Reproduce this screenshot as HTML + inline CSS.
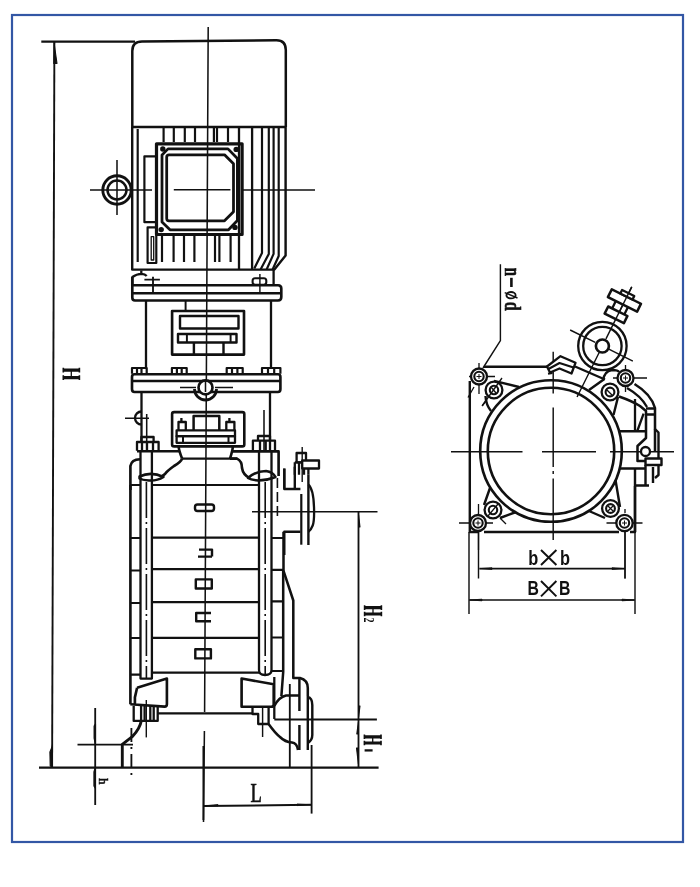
<!DOCTYPE html>
<html><head><meta charset="utf-8">
<style>
html,body{margin:0;padding:0;background:#fff;width:700px;height:887px;overflow:hidden}
svg{display:block}
text{filter:grayscale(1)}
</style></head>
<body>
<svg width="700" height="887" viewBox="0 0 700 887">
<rect x="0" y="0" width="700" height="887" fill="#fff"/>
<rect x="12" y="15" width="671" height="827" fill="none" stroke="#3357a5" stroke-width="2.2"/>

<g id="left" fill="none" stroke="#111" stroke-width="2.30" stroke-linejoin="round">
<!-- H dimension -->
<path d="M41.3 41.7 H135" stroke-width="2.2"/>
<path d="M54.4 42 L52.1 767" stroke-width="1.9"/>
<path d="M54 42.6 L57 63.5 L53.8 63.5 Z M52.4 767 L50.2 766 L49.9 752 L52.4 746 Z" fill="#111" stroke-width="1.10"/>
<path d="M39 767.6 H378.6" stroke-width="2.18"/>
<!-- center line -->
<path d="M208.2 27 L204.6 712 M204.4 731 L203.5 822" stroke-width="1.54"/>

<!-- fan cover -->
<path d="M132.3 127 V51 Q132.3 41.5 142 41.5 L276.5 40.2 Q285.8 40.2 285.8 50 V127" stroke-width="2.5"/>
<path d="M132.3 127 H285.8" stroke-width="2.5"/>

<!-- motor body -->
<path d="M132.2 127 V269.6 H274.4 L285.6 255.6 V127" stroke-width="2.42"/>
<path d="M137.7 129 V262" stroke-width="2.18"/>
<path d="M163.6 128 V142 M173.8 128 V142 M184.8 128 V142 M195 128 V142 M213.9 128 V142 M217 128 V142 M228 128 V142" stroke-width="2.18"/>
<path d="M239 127 V269.5 M252.1 127 V269.5" stroke-width="2.30"/>
<path d="M262 127 V253 L254.3 268.4 M268.8 127 V253.9 L260.7 269.3 M273.6 127 V253.9 L266.7 269.3 M278.7 127 V256 L272.7 269.3" stroke-width="2.18"/>
<path d="M162 236 V262 M173.6 236 V262 M184 236 V262 M194.4 236 V262 M215 236 V262 M219.4 236 V262 M230.6 236 V262" stroke-width="2.18"/>
<!-- side boxes -->
<path d="M156 156.3 H144.4 V222.2 H156" stroke-width="2.18"/>
<path d="M147.6 227.3 H156.3 V263 H147.6 Z" stroke-width="2.18"/>
<path d="M151.2 236.6 H153.7 V260 H151.2 Z" stroke-width="1.32"/>
<!-- terminal box -->
<rect x="156.5" y="143.8" width="85.6" height="90.7" stroke-width="3.22"/>
<path d="M168 148.9 H228 L237.4 158.5 V220.5 L228.5 229.8 H170 L162 222 V155 Z" stroke-width="2.76"/>
<path d="M169 154.8 H224.5 L233.5 163.8 V211.8 L224.5 220.8 H169 Q166.7 220.8 166.7 218.5 V157 Q166.7 154.8 169 154.8 Z" stroke-width="2.76"/>
<g fill="#111" stroke="none">
<circle cx="162.8" cy="149" r="2.7"/><circle cx="236.2" cy="149.4" r="2.7"/>
<circle cx="161.2" cy="229.6" r="2.7"/><circle cx="235" cy="227.4" r="2.7"/>
</g>
<path d="M173.8 189.7 H230.4" stroke-width="1.54"/>
<path d="M90 190 H152 M242 190 H315" stroke-width="1.54"/>
<!-- lifting eye -->
<circle cx="117" cy="190" r="14.2" stroke-width="2.9"/>
<circle cx="117" cy="190" r="9.5" stroke-width="2.5"/>
<path d="M117 160 V215" stroke-width="1.54"/>

<!-- motor flange -->
<path d="M141.3 270.4 V273.9 M132.4 285 V277 Q136.4 274 141.6 273.9 Q145 274 146.7 275.9" stroke-width="2.30"/>
<path d="M144.4 279.6 H159.9 M153 276.7 V292.7" stroke-width="1.84"/>
<path d="M273.6 269.5 V285" stroke-width="2.30"/>
<rect x="252.6" y="278.3" width="13.7" height="6.4" rx="2.5" stroke-width="2.07"/>
<path d="M259.9 274 V293" stroke-width="1.43"/>
<path d="M132.3 285.3 H278 Q281.3 285.3 281.3 288.5 V297 Q281.3 300.5 278 300.5 H135 Q132.3 300.5 132.3 297.5 V277" stroke-width="2.64"/>
<path d="M132.3 293.3 H281.3" stroke-width="2.42"/>

<!-- lantern bracket 1 -->
<path d="M146 301 V367.5 M271 301 V367.5" stroke-width="2.30"/>
<path d="M185.6 301 V310.5" stroke-width="1.95"/>
<rect x="172.1" y="311" width="71.9" height="43.6" stroke-width="2.64"/>
<rect x="180" y="316" width="58.5" height="12.5" stroke-width="2.42"/>
<rect x="178" y="334" width="58.5" height="8.5" stroke-width="2.42"/>
<path d="M186.9 334 V342.5 M230.6 334 V342.5" stroke-width="1.95"/>
<path d="M193.9 342.5 V354 M223.5 342.5 V354" stroke-width="2.42"/>
<!-- bolt heads -->
<path d="M132 373.7 V368 H146.7 V373.7 M137 368 V373.7 M141.5 368 V373.7" stroke-width="2.18"/>
<path d="M171.9 373.7 V368 H186.7 V373.7 M176.9 368 V373.7 M181.7 368 V373.7" stroke-width="2.18"/>
<path d="M226.7 373.7 V368 H242.7 V373.7 M232 368 V373.7 M237.4 368 V373.7" stroke-width="2.18"/>
<path d="M262 373.7 V368 H280.4 V373.7 M268 368 V373.7 M274.2 368 V373.7" stroke-width="2.18"/>
<!-- flange 2 -->
<path d="M134.5 374.2 H278 Q280.4 374.2 280.4 377 V389 Q280.4 392 278 392 H134.5 Q132 392 132 389 V377 Q132 374.2 134.5 374.2 Z" stroke-width="2.64"/>
<path d="M132 381 H280.4" stroke-width="2.42"/>
<path d="M194.5 389 A11 11 0 0 0 216.5 389" stroke-width="2.76"/>
<circle cx="205.5" cy="387.4" r="7" fill="#fff" stroke-width="2.64"/>
<path d="M180 387.4 H196 M215 387.4 H233" stroke-width="1.54"/>
<path d="M205.5 380 V392" stroke-width="1.54"/>

<!-- lantern bracket 2 -->
<path d="M141.5 392 V441 M270 392 V440" stroke-width="2.30"/>
<rect x="172.1" y="412.1" width="72.2" height="34.3" rx="2" stroke-width="2.6"/>
<path d="M178.6 446.4 Q179 451 182.1 458.6 M232.9 446.4 Q232.5 451 230 458.6" stroke-width="2.6"/>
<path d="M193.6 430 V416 H219.3 V430" stroke-width="2.5"/>
<rect x="176.6" y="430.4" width="58.4" height="5.8" stroke-width="2.3"/>
<rect x="176.6" y="436.2" width="58.4" height="6.6" stroke-width="2.3"/>
<path d="M183 436.2 V442.8 M228.5 436.2 V442.8" stroke-width="2"/>
<path d="M178.5 430 V422 H185.8 V430 M181.4 422 V418 M226.3 430 V422 H234.4 V430 M229.4 422 V418" stroke-width="2.3"/>
<path d="M141.5 411.5 A6.5 6.5 0 0 0 141.5 424.5" stroke-width="2.3"/>
<path d="M125 418.3 H149 M146.7 414 V451" stroke-width="1.54"/>
<path d="M264 410 V451" stroke-width="1.54"/>

<!-- pump head -->
<path d="M137 450.7 V442 H158.6 V450.7 M141.4 442 V437 H153.6 V442 M142 442 V450.7 M147 442 V450.7 M153 442 V450.7" stroke-width="2.30"/>
<path d="M252.9 450.7 V440.7 H275 V450.7 M258 440.7 V436 H270 V440.7 M260 440.7 V450.7 M265.7 440.7 V450.7 M270 440.7 V450.7" stroke-width="2.30"/>
<path d="M137 451.2 H179.5 M182.1 458.6 Q181 462 174 466 Q167 471 165 474 Q162 477 158 477.5" stroke-width="2.64"/>
<path d="M232 451.4 H278.6 V476 M230 458.6 Q231 458.6 237 458.6 Q242 461 242 468 Q243 474.5 249.3 477.9" stroke-width="2.64"/>
<path d="M182.1 458.6 H237" stroke-width="2.30"/>
<path d="M130.4 490 V466 Q131.5 459.5 140 459.3" stroke-width="2.64"/>
<path d="M139.5 476.5 Q151 471 163.5 477 Q157 481 149 480.5 Q142 480 139.5 478.5 Z" fill="#fff" stroke-width="2.5"/>
<path d="M248 478 Q256 471 266 471 Q273 472 275.5 477 Q267 480.5 258 480.5 Q251 480 248 478 Z" fill="#fff" stroke-width="2.5"/>
<path d="M284.3 468.6 V488.6" stroke-width="2.30"/>

<!-- pump casing -->
<path d="M130.4 485 V704.3" stroke-width="2.64"/>
<path d="M140.5 451 V678.6 H151.9 V451" stroke-width="2.30"/>
<path d="M146.4 482 V678" stroke-width="1.6" stroke-dasharray="36 4 2 4"/>
<path d="M259 451 V670 Q259 675 265 675 Q271.5 675 271.5 670 V451" stroke-width="2.30"/>
<path d="M265.2 482 V674" stroke-width="1.6" stroke-dasharray="36 4 2 4"/>
<path d="M130.4 485 H140.5 M151.9 485 H259 M130.4 538 H140.5 M151.9 537.7 H259 M130.4 570.5 H140.5 M151.9 569.2 H259 M130.4 603 H140.5 M151.9 602.1 H259 M130.4 638 H140.5 M151.9 637.9 H259 M130.4 674.6 H140.5 M151.9 672.7 H259" stroke-width="2.18"/>
<path d="M271.5 538 H283 M271.5 569.8 H283 M271.5 601.4 H283 M271.5 637.5 H283 M271.5 671 H283" stroke-width="2.18"/>
<path d="M283.5 531.7 V569.8 M283.2 569.8 V672 L281.4 696" stroke-width="2.53"/>
<path d="M283.2 569.8 L293.3 600.5 V678 H300 Q307.8 680 307.8 688 V696" stroke-width="2.53"/>
<!-- slots -->
<rect x="195" y="504.5" width="19" height="6.5" rx="2.5" stroke-width="2.42"/>
<path d="M199 549.6 H212 V556.6 M198 556.6 H212" stroke-width="2.42"/>
<rect x="195.8" y="579.4" width="16" height="9.1" stroke-width="2.42"/>
<path d="M211 613 H196.2 V621.3 H211" stroke-width="2.42"/>
<rect x="195.3" y="649.2" width="15.6" height="9.2" stroke-width="2.42"/>

<!-- discharge -->
<path d="M284.3 468.6 V489 H300.4 M284.3 555 V531.7 H300.4" stroke-width="2.4"/>
<path d="M294.8 466.7 V489" stroke-width="2.4"/>
<path d="M308.4 474.7 V545" stroke-width="2.4"/>
<path d="M301.3 494 V544.7" stroke-width="2.2"/>
<path d="M308.4 484.7 Q313.4 489 314 507 Q314.5 521 312.7 525.5 Q311 530 308.4 531.7" stroke-width="2.3"/>
<path d="M294.8 462.3 H308.4 V474.7 M294.8 474.7 V462.3 M299 462.3 V474.7 M304 462.3 V474.7" stroke-width="2.3"/>
<rect x="296.6" y="453" width="9.4" height="9.3" stroke-width="2.3"/>
<rect x="302.2" y="460.5" width="16.8" height="8" stroke-width="2.3" fill="#fff"/>
<path d="M302.2 447 V482" stroke-width="1.4"/>
<path d="M277.4 478 V520" stroke-width="1.6" stroke-dasharray="10 4"/>
<path d="M252 511.8 H377.5" stroke-width="1.54"/>
<path d="M358.5 511.8 V767.5" stroke-width="1.84"/>
<path d="M358.6 515 L360 527 L358.6 527 Z M358.4 764 L356.5 748 L358.4 748 Z M358.4 722 L356.8 734 L358.4 734 Z M358.6 717 L360 706 L358.6 706 Z" fill="#111" stroke-width="1.10"/>

<!-- base -->
<path d="M137.1 687.7 L166.9 678.6 V704.3 Q166.9 706.6 164.6 706.6 L130.3 704.3 M137.1 687.7 L134.9 697.4 V704.3" stroke-width="2.64"/>
<path d="M133.7 706 V720.9 H157.7 V706 M141.1 706 V720.9 M144.6 706 V720.9 M150.3 706 V720.9 M153.7 706 V720.9" stroke-width="2.30"/>
<path d="M157.7 713.4 H252.5" stroke-width="2.18"/>
<path d="M141.1 721.4 Q140 728 132.6 736.3 L122.3 744.3 V767.6" stroke-width="2.88"/>
<path d="M146.3 700 V737.4" stroke-width="1.43"/>
<path d="M131.4 728 V780" stroke-width="1.84" stroke-dasharray="14 5 2 5"/>
<path d="M77.5 744.6 H133" stroke-width="1.84"/>
<path d="M95.2 708 V805" stroke-width="1.84"/>
<path d="M95.4 744 L94.2 738 L94.2 726 L95.4 724 Z M95.2 768 L94 772 L94 786 L95.2 788 Z" fill="#111" stroke-width="1.32"/>
<!-- right base -->
<path d="M241.6 678.5 L273.7 684.3 V704.5 Q273.7 706.8 271 706.8 H241.6 Z" stroke-width="2.64"/>
<path d="M274.3 677 V719" stroke-width="2.30"/>
<path d="M252.5 707.4 V714 H258.2 V724 H268.6 V707.4" stroke-width="2.30"/>
<path d="M262.6 707 V737" stroke-width="1.43"/>
<path d="M274.3 706 Q279 697 286 695.5 H299.4" stroke-width="2.53"/>
<path d="M268.6 724 Q275 733 280 737 Q285 742 292 742.5 Q297 743 298 750" stroke-width="2.53"/>
<path d="M299.4 679 V711 M299.4 725 V750" stroke-width="2.42"/>
<path d="M307.8 696 V750" stroke-width="2.42"/>
<path d="M307.8 697 Q312.3 698 312.3 705 V735 Q312.3 740 308 743" stroke-width="2.42"/>
<path d="M289.8 684 V767.6" stroke-width="1.84"/>
<path d="M274.3 719.5 H376.9" stroke-width="1.84"/>

<!-- L dimension -->
<path d="M203.4 746 V820" stroke-width="1.84"/>
<path d="M311.6 745 V813.6" stroke-width="1.84"/>
<path d="M203.4 806 L311.6 804.8" stroke-width="1.95"/>
<path d="M204 805.9 L218 804.6 L218 806 Z M311 804.8 L297 804 L297 805.6 Z" fill="#111" stroke-width="0.88"/>
</g>

<!-- text left -->
<g fill="#111" font-family="Liberation Serif, serif">
<g fill="none" stroke="#111"><path d="M63.1 370.1 H79.6 M63.1 377.6 H79.6" stroke-width="3.2"/><path d="M63.3 367.8 V372.4 M79.4 367.8 V372.4 M63.3 375.3 V379.9 M79.4 375.3 V379.9" stroke-width="1.6"/><path d="M71.3 371.1 V376.6" stroke-width="1.3"/><path d="M364.4 607.6 H381.6 M364.4 614.0 H381.6" stroke-width="3.2"/><path d="M364.6 605.3 V609.9 M381.4 605.3 V609.9 M364.6 611.7 V616.3 M381.4 611.7 V616.3" stroke-width="1.6"/><path d="M373.0 608.6 V613.0" stroke-width="1.3"/><path d="M364.2 736.8 H381.2 M364.2 743.0 H381.2" stroke-width="3.2"/><path d="M364.4 734.5 V739.1 M381.0 734.5 V739.1 M364.4 740.7 V745.3 M381.0 740.7 V745.3" stroke-width="1.6"/><path d="M372.7 737.8 V742.0" stroke-width="1.3"/><path d="M364.6 750.4 H372.6" stroke-width="2.3"/></g>
<text font-size="26.5" stroke="#111" stroke-width="0.7" transform="translate(250.5 801.7) scale(0.7 1)">L</text>
<text font-size="14" font-weight="bold" transform="translate(363.6 617.6) rotate(90) scale(0.72 1)">2</text>
<text font-size="23" font-weight="bold" stroke="#111" stroke-width="0.6" transform="translate(504.6 267.8) rotate(90) scale(0.64 1)">n</text>
<text font-size="23" font-weight="bold" stroke="#111" stroke-width="0.6" transform="translate(504.6 301.8) rotate(90) scale(0.7 1)">d</text>
<text font-size="13" font-weight="bold" stroke="#111" stroke-width="0.5" transform="translate(99.2 778.3) rotate(90) scale(0.85 1)">h</text>
</g>
<g fill="none" stroke="#111">
<path d="M511.4 277.8 V287" stroke-width="2.6"/>
<ellipse cx="511" cy="295.2" rx="4.6" ry="3.2" stroke-width="1.84"/>
<path d="M504.7 292.6 L517.5 298" stroke-width="1.43"/>
</g>

<!-- right view -->
<g id="right" fill="none" stroke="#111" stroke-width="2.30" stroke-linejoin="round">
<path d="M469.8 381 V532 H479 M484 532 H619 M630 532 H635 V486" stroke-width="2.42"/>
<path d="M484 366.8 H547" stroke-width="2.42"/>
<circle cx="551" cy="451" r="70.8" stroke-width="2.64"/>
<circle cx="551" cy="451" r="63.2" stroke-width="2.64"/>
<path d="M553.2 351.7 V393.6 M553.2 407.6 V467 M553.2 471 V474 M553.2 478.6 V540" stroke-width="1.45"/>
<path d="M451 451.7 H522.5 M542 451.7 H596 M610 451.7 H674" stroke-width="1.45"/>
<!-- lobes -->
<path d="M494 380.8 L519 387 M485.5 396 Q486 405 491 411" stroke-width="2.42"/>
<path d="M484 505 L490 488 M500 518 L516 512" stroke-width="2.42"/>
<path d="M620 507 L615.5 480 M605 518 L589 511" stroke-width="2.42"/>
<path d="M618 397 L613.5 415 M603 380 L589 390" stroke-width="2.42"/>
<!-- bolts -->
<path d="M479 363 V394 M469 376.5 H495" stroke-width="1.32"/>
<path d="M459 523 H493 M478.5 504 V550" stroke-width="1.32"/>
<path d="M606.5 523 H642.5 M625 509 V513 M625 532 V578.6" stroke-width="1.32"/>
<path d="M613 378 H647 M625.5 365 V392" stroke-width="1.32"/>
<g stroke-width="2.3">
<circle cx="479" cy="376.5" r="8" fill="#fff"/><circle cx="479" cy="376.5" r="4.7" stroke-width="2.1"/>
<circle cx="478" cy="523" r="8" fill="#fff"/><circle cx="478" cy="523" r="4.7" stroke-width="2.1"/>
<circle cx="624.5" cy="523" r="8.2" fill="#fff"/><circle cx="624.5" cy="523" r="4.7" stroke-width="2.1"/>
<circle cx="625.5" cy="378" r="8" fill="#fff"/><circle cx="625.5" cy="378" r="4.7" stroke-width="2.1"/>
<circle cx="494" cy="390" r="8.4" fill="#fff"/><circle cx="494" cy="390" r="4.2" stroke-width="2.1"/>
<circle cx="493" cy="510" r="8.4" fill="#fff"/><circle cx="493" cy="510" r="4.2" stroke-width="2.1"/>
<circle cx="610.5" cy="508.5" r="8.4" fill="#fff"/><circle cx="610.5" cy="508.5" r="4.4" stroke-width="2.1"/>
<circle cx="610" cy="392" r="8.4" fill="#fff"/><circle cx="610" cy="392" r="4.4" stroke-width="2.1"/>
</g>
<path d="M479 374 V379 M476.5 376.5 H481.5 M478 520.5 V525.5 M475.5 523 H480.5 M624.5 520.5 V525.5 M622 523 H627 M625.5 375.5 V380.5 M623 378 H628" stroke-width="1"/>
<path d="M482 406 L502 378 M491 387 L496 393" stroke-width="1.32"/>
<path d="M488 516 L498 504 M500 518 L506 524" stroke-width="1.32"/>
<path d="M607 505 L614 512 M614 505 L607 512" stroke-width="1.32"/>
<path d="M606 389 L613 396" stroke-width="1.32"/>
<path d="M468 397.5 L474 387 M482.5 405.5 L487 399.5" stroke-width="1.32"/>
<!-- bracket chevron -->
<path d="M547 366.5 L560.5 356.2 L575.5 362.8 L571.5 373.5 L559.5 368.5 L550 372.5 Z" stroke-width="2.30" fill="#fff"/>
<path d="M548.5 369 L559.5 363 L573.5 367.5 M548 373.8 L552.5 373" stroke-width="2.07"/>
<path d="M575 366.5 L605 379.5" stroke-width="2.30"/>
<!-- gauge -->
<circle cx="602.4" cy="346" r="24.2" stroke-width="2.3" fill="#fff"/>
<circle cx="602.4" cy="346" r="19.2" stroke-width="2.3"/>
<circle cx="602.4" cy="346" r="6.5" stroke-width="2.64"/>
<g transform="translate(602.4 346) rotate(26.4)">
<path d="M0 -66 V-8 M0 7 V57" stroke-width="1.43"/>
<path d="M-36 0 H-8 M6 0 H34" stroke-width="1.43"/>
<rect x="-16.8" y="-55" width="32.6" height="8.8" stroke-width="2.53" fill="#fff"/>
<rect x="-7.3" y="-59" width="13.6" height="4" stroke-width="2.30" fill="#fff"/>
<path d="M-8 -46 V-38 M5.6 -46 V-38" stroke-width="2.30"/>
<rect x="-12.4" y="-38" width="21.5" height="8" stroke-width="2.53" fill="#fff"/>
<path d="M0 -66 V-29" stroke-width="1.43"/>
</g>
<!-- arm -->
<path d="M603 381 Q604 371 612 370 Q618 370 619 372" stroke-width="2.30"/>
<path d="M634.5 384 Q651 394 655 408 V452" stroke-width="2.53"/>
<path d="M627 388 Q641 396 647 407" stroke-width="2.30"/>
<path d="M619 396.5 Q632 401 640 406 L646 411 V438 L637.5 446 V461 H645.5" stroke-width="2.53"/>
<path d="M646 408.5 H655 M646 414.5 H655" stroke-width="2.30"/>
<path d="M635 399 V431 M643.6 413.6 L637.3 431" stroke-width="2.30"/>
<path d="M620 431.2 H646 M620 468.5 H646" stroke-width="2.53"/>
<circle cx="645.5" cy="451.5" r="4.5" stroke-width="2.30" fill="#fff"/>
<path d="M654.5 428.5 L658.5 432.5 V475 L655 478" stroke-width="2.42"/>
<rect x="645.5" y="458.5" width="16" height="6.5" stroke-width="2.42" fill="#fff"/>
<path d="M645.5 465 V485 M635 468.5 V532 M635 485.5 H649 M653 467 V483" stroke-width="2.42"/>
<!-- leader -->
<path d="M500.4 264.2 V340.7 L483 368" stroke-width="1.43"/>
<!-- dims -->
<path d="M478.5 531 V578.6 M625 531 V578.6" stroke-width="1.43"/>
<path d="M479.3 568.6 H625" stroke-width="1.72"/>
<path d="M469 532 V614 M635 532 V614" stroke-width="1.43"/>
<path d="M469 600 H635" stroke-width="1.72"/>
<path d="M480 568.6 L492 567.8 V569.4 Z M624 568.6 L612 567.8 V569.4 Z M470 600 L482 599.2 V600.8 Z M634 600 L622 599.2 V600.8 Z" fill="#111" stroke-width="0.88"/>
<path d="M541 550 L556.4 565 M556.4 550 L541 565 M541 581 L556.4 596.4 M556.4 581 L541 596.4" stroke-width="1.95"/>
</g>
<g fill="#111" font-family="Liberation Sans, sans-serif" font-size="20.5" font-weight="bold">
<text transform="translate(528.3 564.6) scale(0.8 1)">b</text>
<text transform="translate(560 564.6) scale(0.8 1)">b</text>
<text transform="translate(527.4 595.2) scale(0.77 1)">B</text>
<text transform="translate(559 595.2) scale(0.77 1)">B</text>
</g>
</svg>
</body></html>
